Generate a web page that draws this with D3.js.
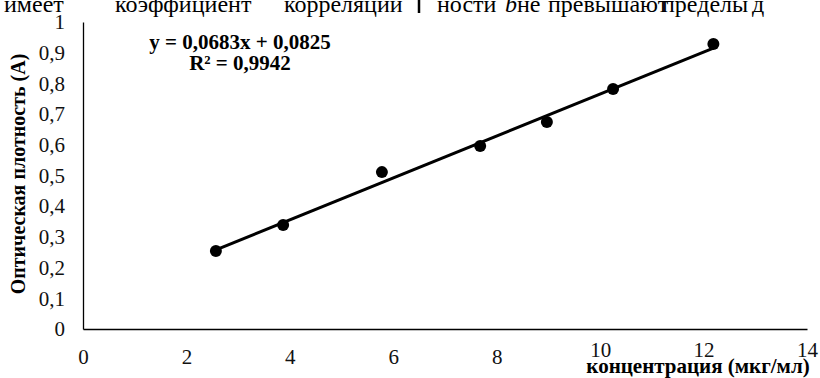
<!DOCTYPE html>
<html>
<head>
<meta charset="utf-8">
<script src="https://cdn.jsdelivr.net/npm/d3@7"></script>
<style>
  body { margin: 0; }
</style>
</head>
<body>
<script>
// calibration points
var concentration = [2.57, 3.87, 5.78, 7.68, 8.97, 10.25, 12.19];
var absorbance = [0.254, 0.339, 0.511, 0.596, 0.674, 0.782, 0.928];
var xTicks = [0, 2, 4, 6, 8, 10, 12, 14];
var yTicks = [0, 0.1, 0.2, 0.3, 0.4, 0.5, 0.6, 0.7, 0.8, 0.9, 1];
var slope = 0.0683;
var intercept = 0.0825;
var equationLines = ["y = 0,0683x + 0,0825", "R² = 0,9942"];
var xTitle = "концентрация (мкг/мл)";
var yTitle = "Оптическая плотность (А)";
// words of the page text cut at the top of the picture
var topWords = ["имеет", "коэффициент", "корреляции", "ности", "b", "не", "превышают", "пределы", "д"];
var topWordX = [4, 115, 284, 437, 505, 517, 548, 662, 752];

var width = 820;
var height = 378;
var fontStack = "'Liberation Serif', 'Times New Roman', serif";

var svg = d3.select("body").append("svg")
    .attr("width", width)
    .attr("height", height);

var x = d3.scaleLinear().domain([0, 14]).range([83, 807]);
var y = d3.scaleLinear().domain([0, 1]).range([329, 22]);

var fmt = function(d) { return String(d).replace(".", ","); };

// page text above the chart
svg.selectAll(".topword")
    .data(topWords)
    .enter()
    .append("text")
    .attr("class", "topword")
    .attr("x", (d, i) => topWordX[i])
    .attr("y", 12)
    .attr("font-size", 24)
    .style("font-family", fontStack)
    .style("font-style", d => d == "b" ? "italic" : "normal")
    .text(d => d);

svg.append("line")
    .attr("x1", 419).attr("x2", 419)
    .attr("y1", 0).attr("y2", 13)
    .attr("stroke", "#000")
    .attr("stroke-width", 2.5);

// axes
var xAxis = d3.axisBottom(x)
    .tickValues(xTicks)
    .tickSize(0)
    .tickPadding(20)
    .tickFormat(fmt);

var yAxis = d3.axisLeft(y)
    .tickValues(yTicks)
    .tickSize(0)
    .tickPadding(18)
    .tickFormat(fmt);

var gx = svg.append("g")
    .attr("transform", "translate(0," + y(0) + ")")
    .call(xAxis);

var gy = svg.append("g")
    .attr("transform", "translate(" + x(0) + ",0)")
    .call(yAxis);

[gx, gy].forEach(g => {
    g.attr("font-family", null).attr("font-size", null);
    g.select(".domain").attr("stroke", "#000").attr("stroke-width", 1.3);
    g.selectAll("text")
        .attr("fill", "#111")
        .attr("font-size", 21)
        .style("font-family", fontStack);
});

// labels 10..14 sit a little higher under the axis title
gx.selectAll(".tick text")
    .attr("dy", d => d >= 10 ? "0.4em" : "0.71em");

// trend line
var xs = d3.extent(concentration);
svg.append("line")
    .attr("x1", x(xs[0]))
    .attr("y1", y(slope * xs[0] + intercept))
    .attr("x2", x(xs[1]))
    .attr("y2", y(slope * xs[1] + intercept))
    .attr("stroke", "#000")
    .attr("stroke-width", 3);

// points
svg.selectAll("circle")
    .data(concentration)
    .enter()
    .append("circle")
    .attr("cx", d => x(d))
    .attr("cy", (d, i) => y(absorbance[i]))
    .attr("r", 6)
    .attr("fill", "#000");

// equation
svg.selectAll(".eq")
    .data(equationLines)
    .enter()
    .append("text")
    .attr("class", "eq")
    .attr("x", 240)
    .attr("y", (d, i) => 49 + i * 21)
    .attr("text-anchor", "middle")
    .attr("font-size", 21)
    .attr("font-weight", "bold")
    .style("font-family", fontStack)
    .text(d => d);

// axis titles
svg.append("text")
    .attr("x", 698)
    .attr("y", 373)
    .attr("text-anchor", "middle")
    .attr("font-size", 21)
    .attr("font-weight", "bold")
    .style("font-family", fontStack)
    .text(xTitle);

svg.append("text")
    .attr("transform", "translate(25,174) rotate(-90)")
    .attr("text-anchor", "middle")
    .attr("font-size", 20)
    .attr("font-weight", "bold")
    .style("font-family", fontStack)
    .text(yTitle);
</script>
</body>
</html>
